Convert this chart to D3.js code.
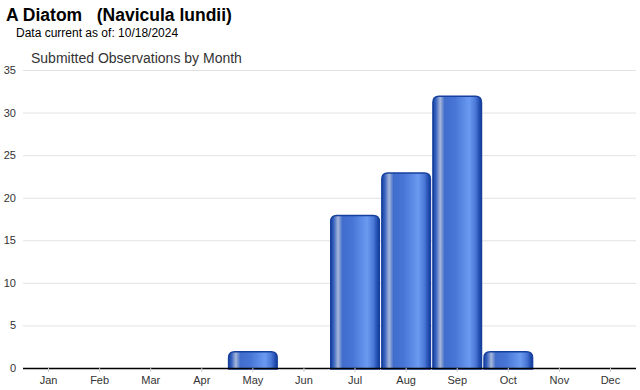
<!DOCTYPE html>
<html>
<head>
<meta charset="utf-8">
<script src="https://cdn.jsdelivr.net/npm/d3@7"></script>
<style>
  body { margin: 0; background: #fff; font-family: "Liberation Sans", Arial, sans-serif; }
  .grid line { stroke: #e2e2e2; }
  .grid .domain { display: none; }
  .yAxis text, .xAxis text { fill: #333; font-size: 11px; }
</style>
</head>
<body>
<script>
// chart data
var months = ["Jan", "Feb", "Mar", "Apr", "May", "Jun", "Jul", "Aug", "Sep", "Oct", "Nov", "Dec"];
var counts = [0, 0, 0, 0, 2, 0, 18, 23, 32, 2, 0, 0];
var yTicks = [0, 5, 10, 15, 20, 25, 30, 35];

var width = 640, height = 390;
var margin = {top: 70, right: 4, bottom: 22, left: 23};

var svg = d3.select("body").append("svg")
  .attr("width", width)
  .attr("height", height);

// titles
svg.append("text")
  .attr("x", 6).attr("y", 21)
  .style("font-size", "17.5px").style("font-weight", "bold")
  .attr("fill", "#000")
  .attr("xml:space", "preserve")
  .text("A Diatom   (Navicula lundii)");

svg.append("text")
  .attr("x", 16).attr("y", 37)
  .style("font-size", "12px")
  .attr("fill", "#000")
  .text("Data current as of: 10/18/2024");

svg.append("text")
  .attr("x", 31).attr("y", 63)
  .style("font-size", "14px")
  .attr("fill", "#333")
  .text("Submitted Observations by Month");

// bar gradient
var grad = svg.append("defs").append("linearGradient")
  .attr("id", "barGrad")
  .attr("x1", "0%").attr("x2", "100%").attr("y1", "0%").attr("y2", "0%");
[[0, "#1a44a2"], [0.06, "#3762c0"], [0.15, "#a6b7d9"], [0.24, "#416dcc"], [0.45, "#4775d6"],
 [0.75, "#6a9af0"], [0.88, "#4a77d6"], [0.96, "#204dae"], [1, "#1a43a0"]].forEach(function(s){
  grad.append("stop").attr("offset", s[0]).attr("stop-color", s[1]);
});

var x = d3.scaleBand()
  .domain(months)
  .range([margin.left, width - margin.right])
  .paddingInner(0.02)
  .paddingOuter(0.01);

var y = d3.scaleLinear()
  .domain([0, 35])
  .range([height - margin.bottom, margin.top]);

// gridlines
svg.append("g")
  .attr("class", "grid")
  .attr("transform", "translate(" + margin.left + ",0)")
  .call(d3.axisRight(y).tickValues(yTicks.slice(1)).tickSize(width - margin.left - margin.right).tickFormat(""));

// y axis labels
var yAxis = svg.append("g")
  .attr("class", "yAxis")
  .attr("transform", "translate(" + margin.left + ",0)")
  .call(d3.axisLeft(y).tickValues(yTicks).tickSize(0).tickPadding(7));
yAxis.select(".domain").remove();

// bars
svg.selectAll(".bars")
  .data(counts.map(function(v, i){ return {m: months[i], v: v}; }).filter(function(d){ return d.v > 0; }))
  .enter()
  .append("path")
  .attr("class", "bars")
  .attr("d", function(d){
    var x0 = x(d.m) + 0.75, w = x.bandwidth() - 1.5, y0 = y(d.v) + 0.75, y1 = y(0) + 1, r = 6;
    return "M" + x0 + "," + y1 + "V" + (y0 + r) + "Q" + x0 + "," + y0 + " " + (x0 + r) + "," + y0 +
      "H" + (x0 + w - r) + "Q" + (x0 + w) + "," + y0 + " " + (x0 + w) + "," + (y0 + r) + "V" + y1 + "Z";
  })
  .attr("fill", "url(#barGrad)")
  .attr("stroke", "#163f9e")
  .attr("stroke-width", 1.5);

// x axis
var xAxis = svg.append("g")
  .attr("class", "xAxis")
  .attr("transform", "translate(0," + y(0) + ")")
  .call(d3.axisBottom(x).tickSize(4).tickPadding(4));
xAxis.selectAll(".tick line").attr("stroke", "#ccc");
xAxis.select(".domain").attr("d", "M" + margin.left + ",0.5H" + (width - margin.right))
  .attr("stroke", "#000").attr("stroke-width", 1.5);
</script>
</body>
</html>
